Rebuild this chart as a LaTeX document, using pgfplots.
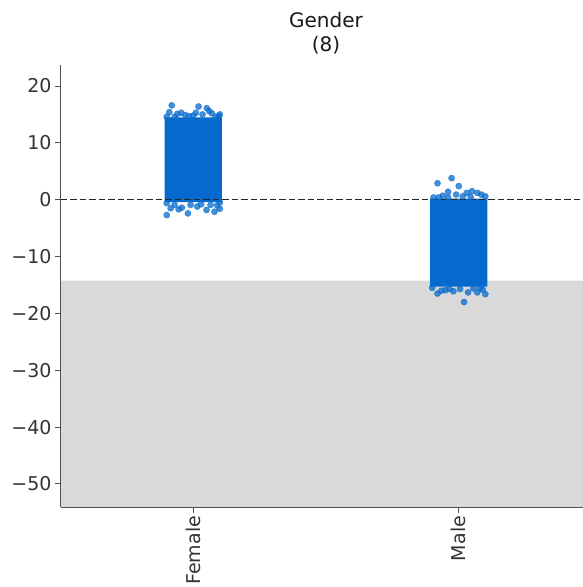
\documentclass[border=0pt]{standalone}
\usepackage{fontspec}
\setmainfont{DejaVu Sans}
\usepackage{pgfplots}
\pgfplotsset{compat=1.18}
\definecolor{ptblue}{RGB}{5,105,205}
\definecolor{spgray}{RGB}{80,80,80}
\definecolor{txgray}{RGB}{51,51,51}
\definecolor{bandgray}{RGB}{217,217,217}

\pgfplotstableread{
x y
-0.081 16.6
0.020 16.4
0.051 16.1
0.060 15.6
0.096 14.7
-0.100 14.6
-0.060 15.1
-0.030 14.9
0.000 14.8
0.035 15.0
0.070 15.2
0.085 14.6
-0.090 15.4
-0.045 15.3
0.010 15.3
-0.015 14.7
-0.070 14.6
0.100 15.0
-0.100 -2.7
-0.043 -1.4
-0.020 -2.4
0.015 -1.2
0.050 -1.8
0.090 -1.0
0.100 -1.6
-0.070 -0.9
0.065 -0.9
-0.085 -1.5
0.030 -0.8
-0.010 -0.9
0.080 -2.1
-0.055 -1.7
-0.100 -0.6
0.100 -0.5
}\femaleedge

\pgfplotstableread{
x y
0.920 2.9
0.973 3.8
1.000 2.4
0.960 1.4
1.050 1.5
1.070 1.2
1.100 0.6
1.030 1.2
0.905 0.4
0.940 0.7
0.990 0.9
1.015 0.6
1.085 0.9
0.925 0.4
1.045 0.5
0.960 0.4
1.020 -18.0
1.070 -16.3
0.920 -16.5
1.035 -16.3
0.900 -15.5
0.950 -15.9
0.980 -16.1
1.090 -15.8
1.100 -16.6
1.005 -15.7
0.935 -16.0
1.055 -15.6
0.965 -15.7
1.080 -15.5
}\maleedge

\begin{document}
\begin{tikzpicture}
\begin{axis}[
  scale only axis, width=531bp, height=442bp,
  xmin=-0.5, xmax=1.5, ymin=-54.05, ymax=23.7,
  axis x line*=bottom, axis y line*=left,
  axis line style={spgray, line width=1bp, -},
  xtick={0,1}, xticklabels={Female,Male},
  ytick={-50,-40,-30,-20,-10,0,10,20},
  yticklabels={−50,−40,−30,−20,−10,0,10,20},
  tick style={spgray, line width=1bp},
  tick align=outside, major tick length=5.5bp,
  ticklabel style={font=\fontsize{19bp}{22bp}\selectfont, text=txgray},
  xticklabel style={rotate=90, anchor=east},
  title={Gender\\(8)},
  title style={align=center, font=\fontsize{20bp}{24bp}\selectfont, text=black!90, yshift=1bp},
  clip=false,
  axis on top,
]
\addplot[fill=bandgray, draw=none] coordinates {(-0.5,-54.05) (1.5,-54.05) (1.5,-14.25) (-0.5,-14.25) (-0.5,-54.05)};
\addplot[fill=ptblue, draw=none] coordinates {(-0.108,-0.4) (0.108,-0.4) (0.108,14.5) (-0.108,14.5) (-0.108,-0.4)};
\addplot[fill=ptblue, draw=none] coordinates {(0.892,-15.3) (1.108,-15.3) (1.108,0.2) (0.892,0.2) (0.892,-15.3)};
\addplot[ptblue, only marks, mark=*, mark size=3.1bp, mark options={draw=ptblue, fill=ptblue, opacity=0.75}] table[x=x,y=y] {\femaleedge};
\addplot[ptblue, only marks, mark=*, mark size=3.1bp, mark options={draw=ptblue, fill=ptblue, opacity=0.75}] table[x=x,y=y] {\maleedge};
\addplot[black!85, line width=1.3bp, dash pattern=on 6.5bp off 3bp] coordinates {(-0.5,0) (1.5,0)};
\coordinate (sw) at (rel axis cs:0,0);
\end{axis}
\pgfresetboundingbox
\path (sw) ++(-60.5bp,-80bp) rectangle ++(583bp,587bp);
\end{tikzpicture}
\end{document}
